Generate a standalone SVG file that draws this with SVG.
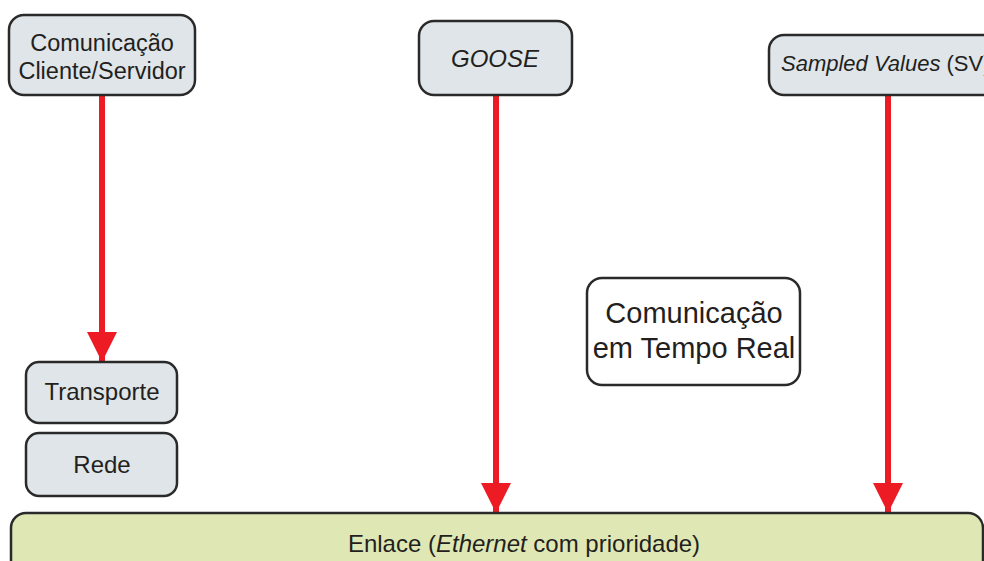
<svg xmlns="http://www.w3.org/2000/svg" width="984" height="561" viewBox="0 0 984 561">
<style>
.box{fill:#dfe5e8;stroke:#2a2a2a;stroke-width:2.5}
.link{fill:#dfe8b4;stroke:#2a2a2a;stroke-width:2.5}
.rt{fill:#ffffff;stroke:#2a2a2a;stroke-width:2.5}
.t{font-family:"Liberation Sans",Arial,sans-serif;font-size:24px;fill:#231f20;text-anchor:middle}
.arrow{stroke:#ed1c24;stroke-width:6;fill:none}
</style>
<defs>
<marker id="ah" markerWidth="30" markerHeight="30" viewBox="0 0 30 30" refX="30" refY="15" orient="auto" markerUnits="userSpaceOnUse">
<path d="M0,0 L30,15 L0,30 Z" fill="#ed1c24"/>
</marker>
</defs>
<g id="connectors">
<line class="arrow" x1="102" y1="96" x2="102" y2="362" marker-end="url(#ah)"/>
<line class="arrow" x1="496" y1="95" x2="496" y2="513" marker-end="url(#ah)"/>
<line class="arrow" x1="888" y1="95" x2="888" y2="513" marker-end="url(#ah)"/>
</g>
<g id="cliente-servidor">
<rect class="box" x="9" y="15" width="186" height="80" rx="15"/>
<text class="t" x="102" y="51" style="font-size:23.5px">Comunicação</text>
<text class="t" x="102" y="79" style="font-size:23.5px">Cliente/Servidor</text>
</g>
<g id="goose">
<rect class="box" x="419" y="21" width="153" height="74" rx="15"/>
<text class="t" x="495" y="67" font-style="italic">GOOSE</text>
</g>
<g id="sv">
<rect class="box" x="769" y="35" width="240" height="60" rx="15"/>
<text class="t" x="781" y="71" style="text-anchor:start;font-size:22px"><tspan font-style="italic">Sampled Values</tspan> (SV)</text>
</g>
<g id="transporte">
<rect class="box" x="26" y="362" width="151" height="61" rx="13"/>
<text class="t" x="102" y="400">Transporte</text>
</g>
<g id="rede">
<rect class="box" x="26" y="433" width="151" height="63" rx="13"/>
<text class="t" x="102" y="473">Rede</text>
</g>
<g id="enlace">
<rect class="link" x="11" y="513" width="972" height="70" rx="15"/>
<text class="t" x="524" y="552">Enlace (<tspan font-style="italic">Ethernet</tspan> com prioridade)</text>
</g>
<g id="tempo-real">
<rect class="rt" x="587" y="278" width="213" height="107" rx="15"/>
<text class="t" x="694" y="323" style="font-size:29px">Comunicação</text>
<text class="t" x="694" y="358" style="font-size:29px">em Tempo Real</text>
</g>
</svg>
